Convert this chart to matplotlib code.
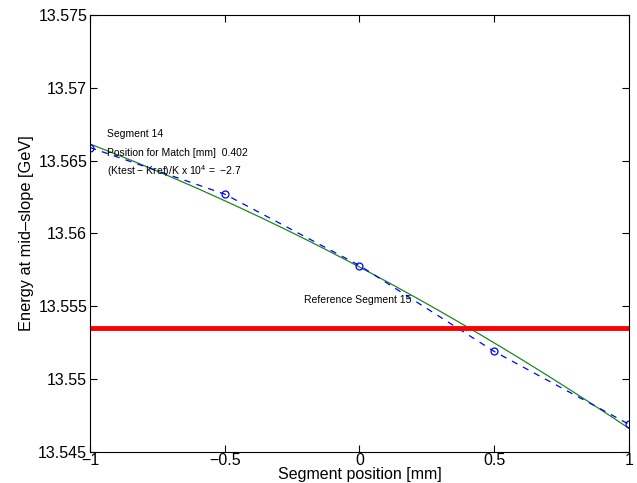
import numpy as np
import matplotlib
matplotlib.use("Agg")
import matplotlib.pyplot as plt

plt.rcParams['font.family'] = ['Liberation Sans', 'DejaVu Sans']
plt.rcParams['mathtext.fontset'] = 'custom'
plt.rcParams['mathtext.rm'] = 'Liberation Sans'

# Data
seg_pos = [-1.0, -0.5, 0.0, 0.5, 1.0]
energy = [13.5659, 13.5627, 13.5578, 13.5519, 13.5469]
ref_energy = 13.5535
match_pos = 0.402
kdiff = -2.7

xticks = [-1, -0.5, 0, 0.5, 1]
xticklabels = ['\u22121', '\u22120.5', '0', '0.5', '1']
yticks = [13.545, 13.55, 13.555, 13.56, 13.565, 13.57, 13.575]
yticklabels = ['13.545', '13.55', '13.555', '13.56', '13.565', '13.57', '13.575']

fig = plt.figure(figsize=(6.37, 4.83), dpi=100)
ax = fig.add_axes([0.1413, 0.0642, 0.8461, 0.9048])

# quadratic fit of the measured points
coef = np.polyfit(seg_pos, energy, 2)
xf = np.linspace(-1, 1, 200)
ax.plot(xf, np.polyval(coef, xf), color='#1a8a1a', lw=0.9)
ax.plot(seg_pos, energy, color='#0000ff', ls=(0, (5, 5)), lw=0.9,
        marker='o', mfc='none', mec='#0000ff', ms=5, mew=0.9)
ax.axhline(ref_energy, color='#ff0000', lw=3.5)

ax.text(-0.937, 13.5668, 'Segment 14', fontsize=7.5, va='center')
ax.text(-0.937, 13.5655, 'Position for Match [mm]  %.3f' % match_pos, fontsize=7.5, va='center')
ax.text(-0.937, 13.5643, '(Ktest \u2212 Kref)/K x 10$^4$ =  \u2212%.1f' % abs(kdiff), fontsize=7.5, va='center')
ax.text(-0.205, 13.5554, 'Reference Segment 15', fontsize=7.5, va='center')

ax.set_xlim(-1, 1)
ax.set_ylim(13.545, 13.575)
ax.set_xticks(xticks)
ax.set_xticklabels(xticklabels)
ax.set_yticks(yticks)
ax.set_yticklabels(yticklabels)
ax.tick_params(direction='in', length=5, width=0.8, top=True, right=True, labelsize=11.5, pad=2)
ax.tick_params(axis='x', pad=1)
for s in ax.spines.values():
    s.set_linewidth(0.8)
ax.set_xlabel('Segment position [mm]', fontsize=11.5, labelpad=-1)
ax.set_ylabel('Energy at mid\u2013slope [GeV]', fontsize=11.8, labelpad=3)

fig.savefig('out.png', dpi=100)
